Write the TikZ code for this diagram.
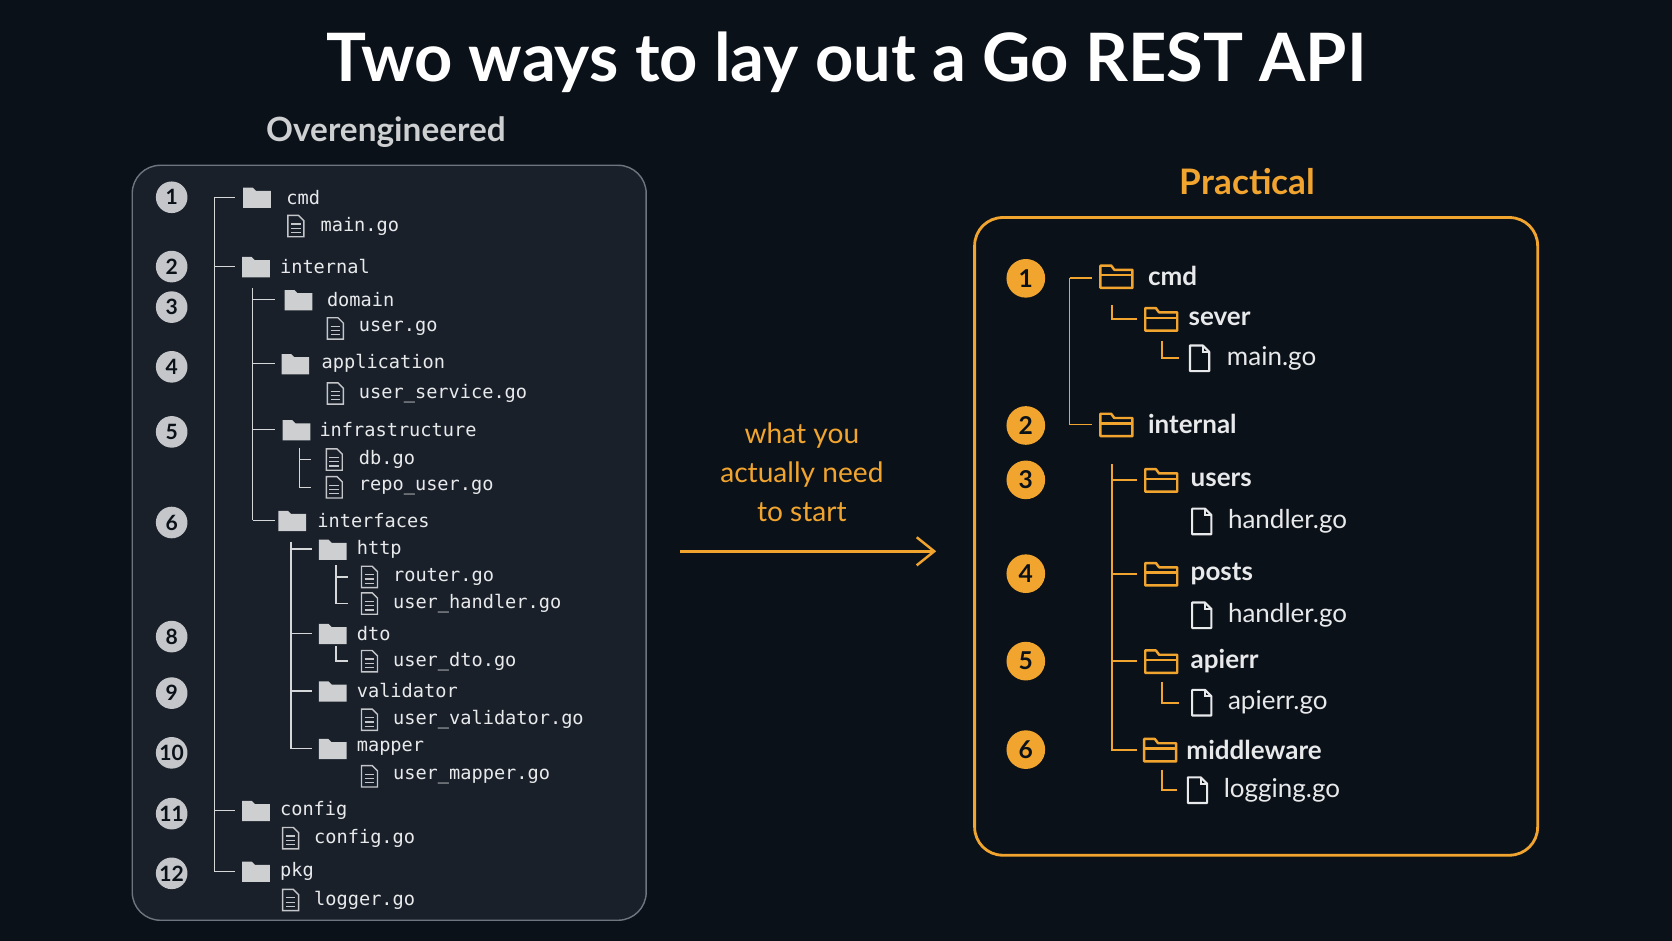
\documentclass[tikz,border=0pt]{standalone}
\usepackage{fontspec}
\setmainfont{Lato}
\newfontfamily\codefont{DejaVu Sans Mono}
\usetikzlibrary{arrows.meta}
\definecolor{bgc}{HTML}{0B1119}
\definecolor{panelc}{HTML}{19202A}
\definecolor{edgec}{HTML}{6E757E}
\definecolor{greyc}{HTML}{C4C6C9}
\definecolor{orangec}{HTML}{F2A52E}
\definecolor{textc}{HTML}{E8E9EB}
\tikzset{
  badgeL/.style={circle, fill=greyc, text=bgc, inner sep=0pt, minimum size=9pt, font=\bfseries\fontsize{6}{6}\selectfont},
  badgeR/.style={circle, fill=orangec, text=bgc, inner sep=0pt, minimum size=11pt, font=\bfseries\fontsize{7}{7}\selectfont},
  codeL/.style={anchor=west, inner sep=0pt, text=textc, font=\codefont\fontsize{5.3}{5.3}\selectfont},
  nameR/.style={anchor=west, inner sep=0pt, text=textc, font=\fontsize{7.4}{7.4}\selectfont},
  branchL/.style={draw=greyc!70, line width=0.4pt},
  branchR/.style={draw=orangec, line width=0.5pt},
  pics/folderL/.style={code={
    \fill[greyc!85] (-13,10) -- (-13,-9) -- (-4,-9) -- (-1,-6) -- (13,-6) -- (13,10) -- cycle;}},
  pics/fileL/.style={code={
    \draw[greyc, line width=0.4pt] (-7,10) -- (-7,-10) -- (3,-10) -- (8,-5) -- (8,10) -- cycle;
    \foreach \yy in {-2,2,6} \draw[greyc, line width=0.35pt] (-4,\yy) -- (5,\yy);}},
  pics/folderR/.style={code={
    \draw[orangec, line width=0.7pt, line join=round] (-15,11) -- (-15,-10) -- (-5,-10) -- (-2,-6) -- (15,-6) -- (15,11) -- cycle;
    \draw[orangec, line width=0.7pt] (-15,-1) -- (15,-1);}},
  pics/fileR/.style={code={
    \draw[textc, line width=0.6pt, line join=round] (-9,12) -- (-9,-12) -- (3,-12) -- (9,-6) -- (9,12) -- cycle;
    \draw[textc, line width=0.6pt] (3,-12) -- (3,-6) -- (9,-6);}}
}
\begin{document}
\begin{tikzpicture}[x=0.010663cm, y=-0.010663cm]
\fill[bgc] (0,0) rectangle (1568,882);
\useasboundingbox (0,0) rectangle (1568,882);
\node[text=white, font=\bfseries\fontsize{19}{19}\selectfont] (title) at (794,58) {Two ways to lay out a Go REST API};
\node[text=greyc!85, font=\bfseries\fontsize{9.5}{9.5}\selectfont] (over) at (362,124) {Overengineered};
\node[text=orangec, font=\bfseries\fontsize{10}{10}\selectfont] (prac) at (1170,170) {Practical};
% left panel
\draw[edgec, fill=panelc, rounded corners=8] (124,155) rectangle (606,863);
\foreach \n/\yy in {1/185,2/250,3/288,4/344,5/405,6/490,8/597,9/650,10/706,11/763,12/819}
  \node[badgeL] (bl\n) at (161,\yy) {\n};
% left branches
\draw[branchL] (201,185) -- (201,817);
\foreach \yy in {185,250,760,817} \draw[branchL] (201,\yy) -- (220,\yy);
\draw[branchL] (237,270) -- (237,488);
\foreach \yy in {281,341,403,488} \draw[branchL] (237,\yy) -- (258,\yy);
\draw[branchL] (273,508) -- (273,702);
\foreach \yy in {515,594,648,702} \draw[branchL] (273,\yy) -- (293,\yy);
\draw[branchL] (281,420) -- (281,457) -- (292,457);
\draw[branchL] (281,431) -- (292,431);
\draw[branchL] (315,530) -- (315,566) -- (326,566);
\draw[branchL] (315,541) -- (326,541);
\draw[branchL] (315,606) -- (315,620) -- (326,620);
% left folders
\foreach \fx/\fy/\nm/\tx in {241/185/cmd/268, 240/250/internal/262, 280/281/domain/306,
  277/341/application/301, 278/403/infrastructure/299, 274/488/interfaces/297,
  312/515/http/334, 312/594/dto/334, 312/648/validator/334, 312/702/mapper/334,
  240/760/config/262, 240/817/pkg/262} {
  \pic at (\fx,\fy) {folderL};
  \node[codeL] at (\tx,\fy) {\nm};
}
% left files
\foreach \fx/\fy/\nm/\tx in {277/212/main.go/300, 314/308/user.go/336, 314/369/user\_service.go/336,
  313/431/db.go/336, 313/457/repo\_user.go/336, 346/541/router.go/368, 346/566/user\_handler.go/368,
  346/620/user\_dto.go/368, 346/675/user\_validator.go/368, 346/728/user\_mapper.go/368,
  272/786/config.go/294, 272/844/logger.go/294} {
  \pic at (\fx,\fy) {fileL};
  \node[codeL] at (\tx,\fy) {\nm};
}
% middle arrow
\node[text=orangec, align=center, font=\fontsize{8}{11.2}\selectfont] (need) at (752,443) {what you\\actually need\\to start};
\coordinate (a1) at (638,517);
\coordinate (a2) at (878,517);
\draw[orangec, line width=0.7pt, -{Straight Barb[length=5pt,width=8pt]}] (a1) -- (a2);
% right panel
\draw[orangec, line width=0.8pt, rounded corners=8] (914,204) rectangle (1442,802);
\foreach \n/\yy in {1/261,2/399,3/450,4/538,5/620,6/703}
  \node[badgeR] (br\n) at (962,\yy) {\n};
\draw[branchR] (1003,261) -- (1003,398) -- (1024,398);
\draw[branchR] (1003,261) -- (1024,261);
\draw[branchR] (1043,286) -- (1043,299) -- (1066,299);
\draw[branchR] (1090,320) -- (1090,336) -- (1106,336);
\draw[branchR] (1043,435) -- (1043,703) -- (1066,703);
\foreach \yy in {450,538,620} \draw[branchR] (1043,\yy) -- (1066,\yy);
\draw[branchR] (1090,640) -- (1090,659) -- (1106,659);
\draw[branchR] (1090,722) -- (1090,741) -- (1104,741);
\foreach \fx/\fy/\nm/\tx in {1047/259/cmd/1076, 1089/299/sever/1114, 1047/398/internal/1076,
  1089/450/users/1116, 1089/538/posts/1116, 1089/620/apierr/1116, 1088/703/middleware/1112} {
  \pic at (\fx,\fy) {folderR};
  \node[nameR, font=\bfseries\fontsize{7.4}{7.4}\selectfont] at (\tx,\fy) {\nm};
}
\foreach \fx/\fy/\nm/\tx in {1125/336/main.go/1150, 1127/489/handler.go/1151, 1127/577/handler.go/1151,
  1127/659/apierr.go/1151, 1123/741/logging.go/1147} {
  \pic at (\fx,\fy) {fileR};
  \node[nameR] at (\tx,\fy) {\nm};
}
\end{tikzpicture}
\end{document}
